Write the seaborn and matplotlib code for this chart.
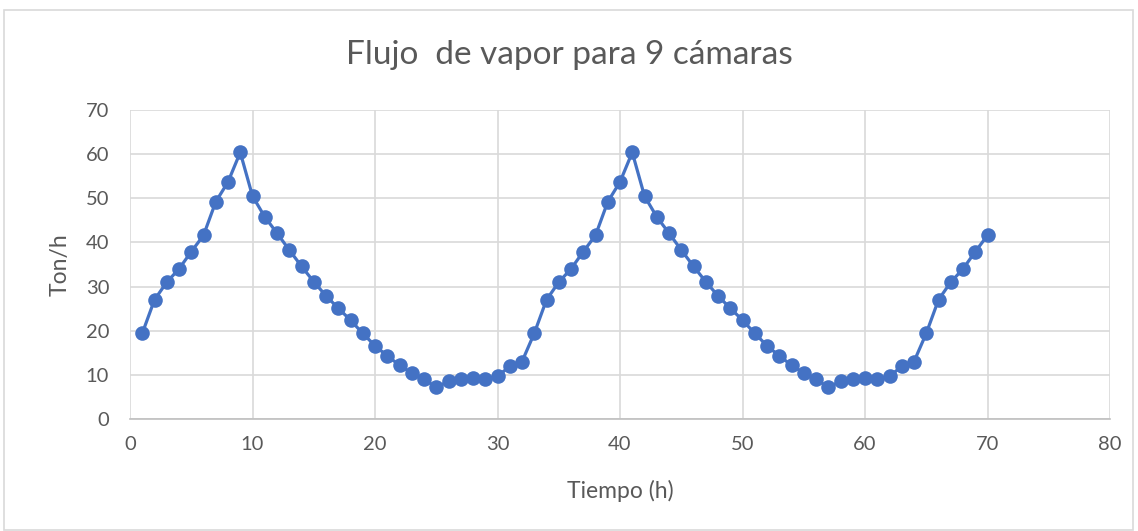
import matplotlib
matplotlib.use("Agg")
import matplotlib.pyplot as plt
import seaborn as sns
import pandas as pd
from matplotlib.patches import Rectangle

hours = list(range(1, 71))
cycle = [19.4, 27.0, 31.0, 34.0, 37.9, 41.6, 49.2, 53.7, 60.4, 50.5,
         45.8, 42.1, 38.3, 34.6, 31.1, 27.9, 25.1, 22.4, 19.4, 16.6,
         14.3, 12.2, 10.4, 9.0, 7.2, 8.5, 9.0, 9.3, 9.0, 9.7,
         11.9, 13.0]
flujo = cycle + cycle + cycle[:6]

title = "Flujo  de vapor para 9 cámaras"
xlabel = "Tiempo (h)"
ylabel = "Ton/h"
xticks = [0, 10, 20, 30, 40, 50, 60, 70, 80]
yticks = [0, 10, 20, 30, 40, 50, 60, 70]

df = pd.DataFrame({"h": hours, "v": flujo})

sns.set_theme(style="white")
plt.rcParams['font.family'] = ['Lato', 'DejaVu Sans']

W, H = 1138, 531
fig = plt.figure(figsize=(W/100, H/100), dpi=100)
ax = fig.add_axes([130/W, 1-419/H, (1110-130)/W, (419-110)/H])

sns.lineplot(data=df, x="h", y="v", ax=ax, color="#4472C4", linewidth=2.3,
             marker="o", markersize=10.5, markeredgewidth=0, markeredgecolor="#4472C4")

ax.set_xlim(0, 80)
ax.set_ylim(0, 70)
ax.set_xticks(xticks)
ax.set_yticks(yticks)
ax.grid(True, color="#D9D9D9", linewidth=1.2)
ax.set_axisbelow(True)
for s in ["top", "right", "left"]:
    ax.spines[s].set_visible(False)
ax.spines["bottom"].set_color("#BFBFBF")
ax.spines["bottom"].set_linewidth(1.2)
ax.tick_params(axis="both", length=0, labelsize=14.5, colors="#595959")
ax.tick_params(axis="y", pad=15)
ax.tick_params(axis="x", pad=12)
ax.set_xlabel(xlabel, fontsize=16.5, color="#595959")
ax.set_ylabel(ylabel, fontsize=16.5, color="#595959")
ax.xaxis.set_label_coords(0.5, -(491-419)/(419-110), transform=ax.transAxes)
ax.yaxis.set_label_coords(-(130-60)/(1110-130), 0.5, transform=ax.transAxes)
ax.xaxis.label.set_va("center")
ax.yaxis.label.set_va("center")

fig.text(0.5, 1-55/H, title, ha="center", va="center", fontsize=24, color="#595959")

fig.patches.append(Rectangle((4/W, 0.002), 1129/W, 1-10/H-0.002,
                             transform=fig.transFigure, fill=False,
                             edgecolor="#D9D9D9", linewidth=1.2))

fig.savefig("out.png", dpi=100, facecolor="white")
